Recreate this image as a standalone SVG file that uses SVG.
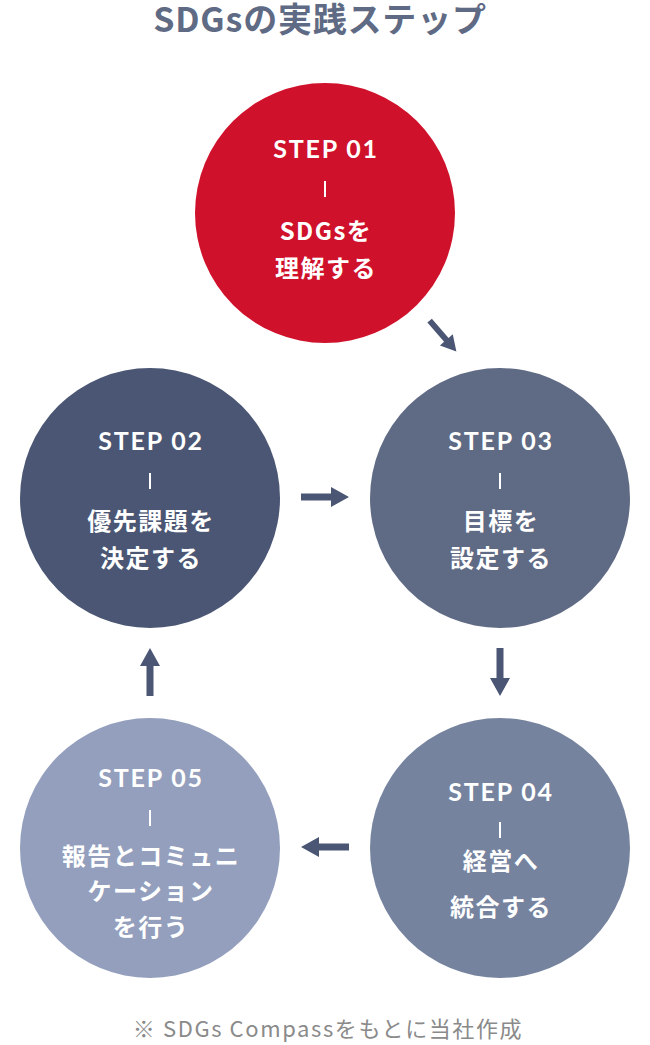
<svg xmlns="http://www.w3.org/2000/svg" width="650" height="1045" viewBox="0 0 650 1045">
<defs>
<style>
.t{font-family:"Noto Sans CJK JP","Noto Sans",sans-serif;font-weight:700;fill:#fff;font-size:24px;text-anchor:middle;letter-spacing:1.5px}
.s{font-family:Lato,"Noto Sans",sans-serif;font-weight:700;fill:#fff;font-size:25px;text-anchor:middle;letter-spacing:1.8px}
.d{stroke:#fff;stroke-width:2}
.a{fill:#4A5673}
</style>
<path id="arr" d="M-24,-3.5 H6 V-10 L24,0 L6,10 V3.5 H-24 Z"/>
</defs>
<rect width="650" height="1045" fill="#fff"/>
<text x="320" y="32" font-family="'Noto Sans CJK JP',sans-serif" font-weight="700" font-size="34" fill="#5F6A84" text-anchor="middle" letter-spacing="0.8">SDGsの実践ステップ</text>
<g id="step1">
<circle cx="325" cy="213" r="130" fill="#D0112B"/>
<text class="s" x="326" y="158">STEP 01</text>
<line class="d" x1="325" y1="181" x2="325" y2="197"/>
<text class="t" x="326" y="240">SDGsを</text>
<text class="t" x="326" y="277">理解する</text>
</g>
<g id="step2">
<circle cx="150" cy="498" r="130" fill="#4A5673"/>
<text class="s" x="151" y="450">STEP 02</text>
<line class="d" x1="150" y1="473" x2="150" y2="489"/>
<text class="t" x="151" y="530">優先課題を</text>
<text class="t" x="151" y="567">決定する</text>
</g>
<g id="step3">
<circle cx="500" cy="498" r="130" fill="#5F6A84"/>
<text class="s" x="501" y="450">STEP 03</text>
<line class="d" x1="500" y1="473" x2="500" y2="489"/>
<text class="t" x="501" y="530">目標を</text>
<text class="t" x="501" y="567">設定する</text>
</g>
<g id="step4">
<circle cx="500" cy="848" r="130" fill="#75839F"/>
<text class="s" x="501" y="801">STEP 04</text>
<line class="d" x1="500" y1="822" x2="500" y2="838"/>
<text class="t" x="501" y="870">経営へ</text>
<text class="t" x="501" y="916">統合する</text>
</g>
<g id="step5">
<circle cx="150" cy="848" r="130" fill="#939FBD"/>
<text class="s" x="151" y="787">STEP 05</text>
<line class="d" x1="150" y1="810" x2="150" y2="826"/>
<text class="t" x="151" y="865">報告とコミュニ</text>
<text class="t" x="151" y="900">ケーション</text>
<text class="t" x="151" y="936">を行う</text>
</g>
<g id="connectors" class="a">
<use href="#arr" transform="translate(443,336) rotate(49) scale(0.85)"/>
<use href="#arr" transform="translate(325,497)"/>
<use href="#arr" transform="translate(500,672) rotate(90)"/>
<use href="#arr" transform="translate(325,847) rotate(180)"/>
<use href="#arr" transform="translate(150,672) rotate(-90)"/>
</g>
<text x="328" y="1037" font-family="'Noto Sans CJK JP',sans-serif" font-size="22" fill="#8a8a8a" text-anchor="middle" letter-spacing="1.6">※ SDGs Compassをもとに当社作成</text>
</svg>
